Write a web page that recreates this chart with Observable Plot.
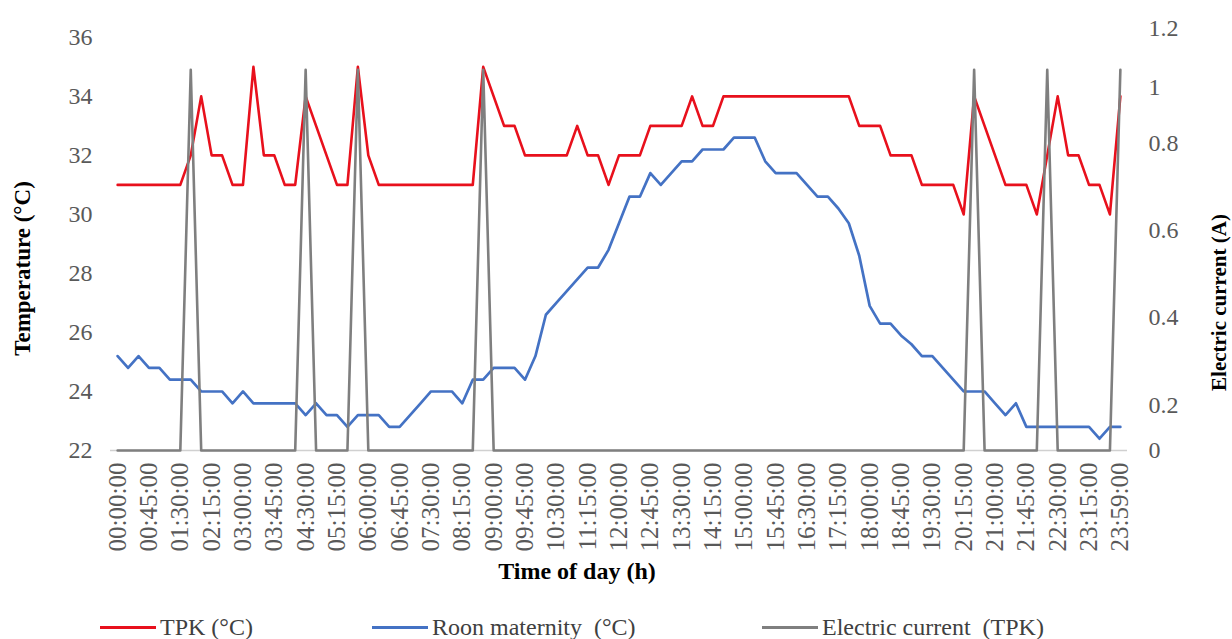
<!DOCTYPE html>
<html>
<head>
<meta charset="utf-8">
<script src="https://cdn.jsdelivr.net/npm/d3@7"></script>
<script src="https://cdn.jsdelivr.net/npm/@observablehq/plot@0.6"></script>
<style>
  body { margin: 0; background: #fff; font-family: "Liberation Serif", "Times New Roman", serif; }
  #chart { width: 1232px; height: 600px; }
  .legend { position: relative; width: 1232px; height: 39px; }
  .item { position: absolute; top: 0; height: 54px; display: flex; align-items: center;
          font-size: 24px; color: #404040; white-space: pre; }
  .sw { display: inline-block; width: 56px; height: 3px; margin-right: 4px; }
</style>
</head>
<body>
<div id="chart"></div>
<div class="legend" id="legend"></div>
<script>
// ---- data (15-minute readings) ----
const tickLabels = ["00:00:00","00:45:00","01:30:00","02:15:00","03:00:00","03:45:00","04:30:00","05:15:00",
  "06:00:00","06:45:00","07:30:00","08:15:00","09:00:00","09:45:00","10:30:00","11:15:00","12:00:00",
  "12:45:00","13:30:00","14:15:00","15:00:00","15:45:00","16:30:00","17:15:00","18:00:00","18:45:00",
  "19:30:00","20:15:00","21:00:00","21:45:00","22:30:00","23:15:00","23:59:00"];

const times = [];
for (let m = 0; m < 24 * 60; m += 15) {
  times.push(String(Math.floor(m / 60)).padStart(2, "0") + ":" + String(m % 60).padStart(2, "0") + ":00");
}
times.push("23:59:00");

const tpk = [31,31,31,31,31,31,31,32,34,32,32,31,31,35,32,32,31,31,34,33,32,31,31,35,32,
  31,31,31,31,31,31,31,31,31,31,35,34,33,33,32,32,32,32,32,33,32,32,31,32,32,32,33,33,33,33,
  34,33,33,34,34,34,34,34,34,34,34,34,34,34,34,34,33,33,33,32,32,32,31,31,31,31,30,34,33,32,
  31,31,31,30,32,34,32,32,31,31,30,34];

const room = [25.2,24.8,25.2,24.8,24.8,24.4,24.4,24.4,24.0,24.0,24.0,23.6,24.0,23.6,23.6,23.6,23.6,23.6,
  23.2,23.6,23.2,23.2,22.8,23.2,23.2,23.2,22.8,22.8,23.2,23.6,24.0,24.0,24.0,23.6,24.4,24.4,24.8,24.8,
  24.8,24.4,25.2,26.6,27.0,27.4,27.8,28.2,28.2,28.8,29.7,30.6,30.6,31.4,31.0,31.4,31.8,31.8,32.2,32.2,
  32.2,32.6,32.6,32.6,31.8,31.4,31.4,31.4,31.0,30.6,30.6,30.2,29.7,28.6,26.9,26.3,26.3,25.9,25.6,25.2,
  25.2,24.8,24.4,24.0,24.0,24.0,23.6,23.2,23.6,22.8,22.8,22.8,22.8,22.8,22.8,22.8,22.4,22.8,22.8];

const current = times.map(() => 0);
const currentOnIdx = [7, 18, 23, 35, 82, 89, 96];
const currentOnValue = [1.06, 1.06, 1.06, 1.06, 1.06, 1.06, 1.06];
currentOnIdx.forEach((k, j) => { current[k] = currentOnValue[j]; });

const leftTicks = [22, 24, 26, 28, 30, 32, 34, 36];
const rightTicks = [0, 0.2, 0.4, 0.6, 0.8, 1, 1.2];

// secondary axis: current (A) expressed on the temperature scale
const curToTemp = d3.scaleLinear().domain(rightTicks).range([22, 23.52, 26.51, 29.46, 32.40, 34.30, 36.30]);

const rows = times.map((t, i) => ({ time: t, tpk: tpk[i], room: room[i], cur: current[i] }));

const textColor = "#595959";
const chart = Plot.plot({
  width: 1232, height: 600,
  marginLeft: 114, marginRight: 109, marginTop: 28, marginBottom: 150,
  style: { fontFamily: "Liberation Serif, 'Times New Roman', serif", background: "#fff", overflow: "visible" },
  x: { type: "point", domain: times, padding: 0.3 },
  y: { domain: [22, 36.3] },
  marks: [
    Plot.axisY(leftTicks, { anchor: "left", tickSize: 0, tickPadding: 22, fontSize: 24, color: textColor, label: null }),
    Plot.axisY(rightTicks.map(curToTemp), { anchor: "right", tickSize: 0, tickPadding: 25, fontSize: 24, color: textColor,
      tickFormat: t => String(Math.round(curToTemp.invert(t) * 10) / 10), label: null }),
    Plot.axisX(tickLabels, { tickRotate: -90, tickSize: 0, tickPadding: 12, fontSize: 25, color: textColor, label: null }),
    Plot.ruleY([22], { stroke: "#d0d0d0", strokeWidth: 1.5, insetLeft: -4, insetRight: -4 }),
    Plot.lineY(rows, { x: "time", y: "tpk", stroke: "#e8101c", strokeWidth: 2.6 }),
    Plot.lineY(rows, { x: "time", y: "room", stroke: "#4472c4", strokeWidth: 2.7 }),
    Plot.lineY(rows, { x: "time", y: d => curToTemp(d.cur), stroke: "#7f7f7f", strokeWidth: 2.6 }),
    Plot.text(["Temperature (°C)"], { frameAnchor: "left", textAnchor: "middle", rotate: -90, dx: -92, dy: 29, fontSize: 23, fontWeight: "bold", fill: "#000" }),
    Plot.text(["Electric current (A)"], { frameAnchor: "right", textAnchor: "middle", rotate: -90, dx: 96, dy: 63, fontSize: 21, fontWeight: "bold", fill: "#000" }),
    Plot.text(["Time of day (h)"], { frameAnchor: "bottom", textAnchor: "middle", dx: -42, dy: 128, fontSize: 24, fontWeight: "bold", fill: "#000" })
  ]
});
document.getElementById("chart").appendChild(chart);

// legend
const legendItems = [
  { label: "TPK (°C)", color: "#e8101c", left: 100 },
  { label: "Roon maternity  (°C)", color: "#4472c4", left: 372 },
  { label: "Electric current  (TPK)", color: "#7f7f7f", left: 762 }
];
const leg = document.getElementById("legend");
legendItems.forEach(it => {
  const d = document.createElement("div");
  d.className = "item";
  d.style.left = it.left + "px";
  const s = document.createElement("span");
  s.className = "sw";
  s.style.background = it.color;
  d.appendChild(s);
  d.appendChild(document.createTextNode(it.label));
  leg.appendChild(d);
});
</script>
</body>
</html>
